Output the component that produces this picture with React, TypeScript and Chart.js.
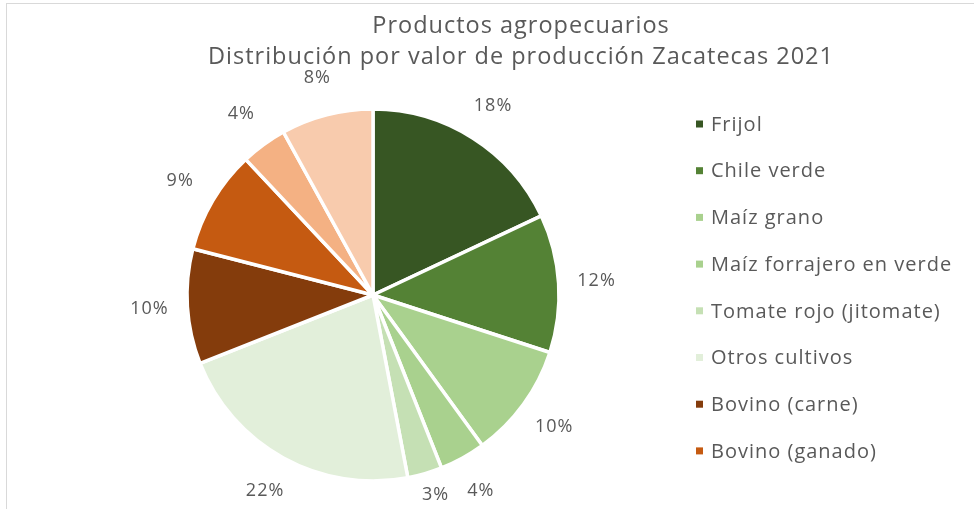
import React, { useEffect, useRef } from "react";
import { Chart, registerables } from "chart.js";

Chart.register(...registerables);

const categories = [
  "Frijol",
  "Chile verde",
  "Maíz grano",
  "Maíz forrajero en verde",
  "Tomate rojo (jitomate)",
  "Otros cultivos",
  "Bovino (carne)",
  "Bovino (ganado)",
  "Leche de bovino",
  "Otros pecuarios",
];
const shares = [18, 12, 10, 4, 3, 22, 10, 9, 4, 8];
const sliceColors = [
  "#375623",
  "#548235",
  "#A9D18E",
  "#A9D18E",
  "#C5E0B4",
  "#E2EFDA",
  "#843C0C",
  "#C55A11",
  "#F4B183",
  "#F8CBAD",
];
const titleLines = [
  "Productos agropecuarios",
  "Distribución por valor de producción Zacatecas 2021",
];
const visibleLegendItems = 8;

const FONT = "'Open Sans', 'DejaVu Sans', sans-serif";
const TEXT_COLOR = "#595959";

const overlayPlugin = {
  id: "overlay",
  afterDraw(chart: any) {
    const ctx = chart.ctx as any;
    ctx.save();
    ctx.fillStyle = TEXT_COLOR;
    ctx.textBaseline = "middle";

    // Title
    ctx.textAlign = "center";
    ctx.letterSpacing = "1px";
    ctx.font = `23.5px ${FONT}`;
    ctx.fillText(titleLines[0], 514, 22);
    ctx.fillText(titleLines[1], 514, 53);

    // Data labels
    ctx.font = `18px ${FONT}`;
    const meta = chart.getDatasetMeta(0);
    const maxY = chart.height - 14;
    meta.data.forEach((arc: any, i: number) => {
      const p = arc.getProps(["x", "y", "startAngle", "endAngle", "outerRadius"], true);
      const mid = (p.startAngle + p.endAngle) / 2;
      const d = p.outerRadius + 38;
      const lx = p.x + Math.cos(mid) * d;
      const ly = Math.min(p.y + Math.sin(mid) * d, maxY);
      ctx.fillText(`${shares[i]}%`, lx, ly);
    });

    // Legend
    ctx.textAlign = "left";
    ctx.font = `20px ${FONT}`;
    for (let i = 0; i < visibleLegendItems; i++) {
      const y = 120 + 46.7 * i;
      ctx.fillStyle = sliceColors[i];
      ctx.fillRect(689, y - 3.5, 7, 7);
      ctx.fillStyle = TEXT_COLOR;
      ctx.fillText(categories[i], 704, y + 1);
    }
    ctx.restore();
  },
};

export default function App() {
  const canvasRef = useRef<HTMLCanvasElement | null>(null);

  useEffect(() => {
    if (!canvasRef.current) return;
    const chart = new Chart(canvasRef.current, {
      type: "pie",
      data: {
        labels: categories,
        datasets: [
          {
            data: shares,
            backgroundColor: sliceColors,
            borderColor: "#ffffff",
            borderWidth: 3.5,
            radius: 186,
          } as any,
        ],
      },
      options: {
        responsive: false,
        animation: false,
        devicePixelRatio: 1,
        layout: { padding: { left: 0, right: 235, top: 100, bottom: 23 } },
        plugins: {
          legend: { display: false },
          title: { display: false },
          tooltip: { enabled: false },
        },
      },
      plugins: [overlayPlugin],
    });
    return () => chart.destroy();
  }, []);

  return (
    <div
      style={{
        position: "fixed",
        left: 6,
        top: 3,
        width: 1100,
        height: 600,
        border: "1px solid #d9d9d9",
        background: "#ffffff",
        overflow: "hidden",
      }}
    >
      <canvas
        ref={canvasRef}
        width={967}
        height={505}
        style={{ position: "absolute", left: 0, top: 0, width: 967, height: 505 }}
      />
    </div>
  );
}
